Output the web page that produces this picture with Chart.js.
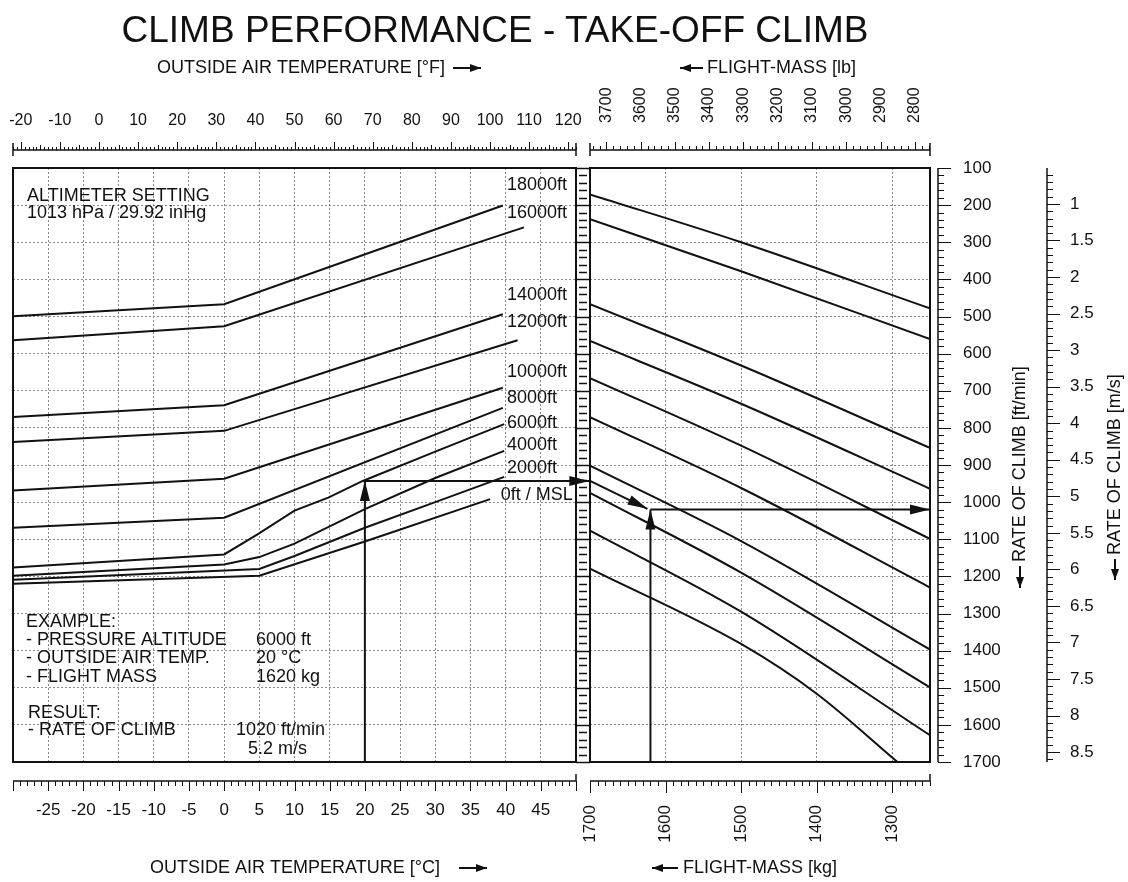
<!DOCTYPE html>
<html>
<head>
<meta charset="utf-8">
<title>Climb performance - take-off climb</title>
<script src="https://cdn.jsdelivr.net/npm/chart.js@4.4.1/dist/chart.umd.min.js"></script>
<style>
  html, body { margin: 0; padding: 0; background: #fff; }
  #wrap { position: relative; width: 1128px; height: 882px; overflow: hidden; }
  #wrap canvas { position: absolute; left: 0; top: 0; }
  #title { position: absolute; left: 0; top: 11px; width: 990px; text-align: center;
           font: 37px "Liberation Sans", Arial, sans-serif; line-height: 37px; color: #111; }
</style>
</head>
<body>
<div id="wrap">
  <canvas id="tempChart" width="1128" height="882"></canvas>
  <canvas id="massChart" width="1128" height="882"></canvas>
  <div id="title">CLIMB PERFORMANCE - TAKE-OFF CLIMB</div>
</div>
<script>
// ---- values ----
var tempRangeC = [-30, 50];
var massRangeKg = [1250, 1700];
var rocRange = [100, 1700];

var tempTicksC = [-25, -20, -15, -10, -5, 0, 5, 10, 15, 20, 25, 30, 35, 40, 45];
var tempTicksF = [-20, -10, 0, 10, 20, 30, 40, 50, 60, 70, 80, 90, 100, 110, 120];
var massTicksKg = [1700, 1600, 1500, 1400, 1300];
var massTicksLb = [3700, 3600, 3500, 3400, 3300, 3200, 3100, 3000, 2900, 2800];
var rocTicksFpm = [100, 200, 300, 400, 500, 600, 700, 800, 900, 1000, 1100, 1200, 1300, 1400, 1500, 1600, 1700];
var rocTicksMs = [1, 1.5, 2, 2.5, 3, 3.5, 4, 4.5, 5, 5.5, 6, 6.5, 7, 7.5, 8, 8.5];

var altitudeNames = ['18000ft', '16000ft', '14000ft', '12000ft', '10000ft', '8000ft', '6000ft', '4000ft', '2000ft', '0ft / MSL'];

// rate of climb [ft/min] against OAT [°C], one list per pressure altitude
var roc18000 = [[-30, 499], [0, 467], [39.6, 201]];
var roc16000 = [[-30, 564], [0, 526], [42.6, 260]];
var roc14000 = [[-30, 771], [0, 739], [39.6, 494]];
var roc12000 = [[-30, 838], [0, 808], [41.7, 564]];
var roc10000 = [[-30, 969], [0, 937], [39.6, 692]];
var roc8000 = [[-30, 1069], [0, 1042], [39.6, 746]];
var roc6000 = [[-30, 1176], [0, 1141], [4.8, 1086], [10, 1023], [14.8, 988], [19.7, 943], [30, 864], [39.8, 790]];
var roc4000 = [[-30, 1198], [0, 1168], [5, 1148], [10, 1112], [20, 1019], [30, 935], [39.8, 862]];
var roc2000 = [[-30, 1209], [5, 1180], [10, 1145], [20, 1069], [30, 1000], [39.8, 932]];
var roc0 = [[-30, 1220], [5, 1198], [20, 1106], [37.8, 992]];
var altitudeCurves = [roc18000, roc16000, roc14000, roc12000, roc10000, roc8000, roc6000, roc4000, roc2000, roc0];

// flight-mass guide lines [kg, ft/min]
var massGuide1 = [[1700, 171], [1500, 300], [1250, 478]];
var massGuide2 = [[1700, 238], [1500, 378], [1250, 561]];
var massGuide3 = [[1700, 467], [1500, 632], [1250, 854]];
var massGuide4 = [[1700, 566], [1500, 735], [1250, 964]];
var massGuide5 = [[1700, 666], [1500, 848], [1250, 1099]];
var massGuide6 = [[1700, 771], [1500, 962], [1250, 1230]];
var massGuide7 = [[1700, 902], [1500, 1105], [1250, 1397]];
var massGuide8 = [[1700, 975], [1500, 1190], [1250, 1499]];
var massGuide9 = [[1700, 1077], [1500, 1295], [1250, 1628]];
var massGuide10 = [[1700, 1179], [1500, 1382], [1400, 1516], [1293, 1700]];
var massGuides = [massGuide1, massGuide2, massGuide3, massGuide4, massGuide5, massGuide6, massGuide7, massGuide8, massGuide9, massGuide10];

// worked example: 6000 ft, 20 °C, 1620 kg -> 1020 ft/min
var exampleUpC = [[20, 1700], [20, 943]];
var exampleAcrossC = [[20, 943], [51.9, 943]];
var exampleSlideKg = [[1700, 943], [1624, 1018]];
var exampleUpKg = [[1620, 1700], [1620, 1020]];
var exampleAcrossKg = [[1620, 1020], [1250, 1020]];

// unit conversions for the secondary scales
var KG_TO_LB = 2.20462;
var FPM_PER_MS = 196.85;
function cToF(c) { return c * 9 / 5 + 32; }

// where the altitude names sit (°C, ft/min)
var altLabelAt = [[40.2, 146], [40.2, 221], [40.2, 442], [40.2, 515], [40.2, 649], [40.2, 720], [40.2, 787], [40.2, 846], [40.2, 908], [39.3, 981]];

// ---- drawing helpers ----
var ink = '#111';
var fontFamily = '"Liberation Sans", Arial, Helvetica, sans-serif';
Chart.defaults.font.family = fontFamily;
Chart.defaults.color = ink;

function px(scale, v) { return scale.getPixelForValue(v); }

function seg(ctx, x1, y1, x2, y2, w) {
  ctx.beginPath();
  ctx.lineWidth = w || 1;
  ctx.moveTo(x1, y1);
  ctx.lineTo(x2, y2);
  ctx.stroke();
}

function head(ctx, x1, y1, x2, y2, len, half) {
  var dx = x2 - x1, dy = y2 - y1, d = Math.sqrt(dx * dx + dy * dy) || 1;
  var ux = dx / d, uy = dy / d, bx = x2 - ux * len, by = y2 - uy * len;
  ctx.beginPath();
  ctx.moveTo(x2, y2);
  ctx.lineTo(bx - uy * half, by + ux * half);
  ctx.lineTo(bx + uy * half, by - ux * half);
  ctx.closePath();
  ctx.fill();
}

function arrowIcon(ctx, x1, y1, x2, y2) {
  seg(ctx, x1, y1, x2, y2, 2);
  head(ctx, x1, y1, x2, y2, 11, 4);
}

function hRuler(ctx, scale, lo, hi, step, lenOf, y, dir) {
  seg(ctx, px(scale, lo), y, px(scale, hi), y, 1.5);
  for (var i = Math.ceil(lo / step - 1e-6); i * step <= hi + 1e-6; i++) {
    var x = Math.round(px(scale, i * step)) + 0.5;
    seg(ctx, x, y, x, y + dir * lenOf(i), 1);
  }
}

function vRuler(ctx, scale, lo, hi, step, lenOf, x, dir) {
  seg(ctx, x, px(scale, lo), x, px(scale, hi), 1.5);
  for (var i = Math.ceil(lo / step - 1e-6); i * step <= hi + 1e-6; i++) {
    var y = Math.round(px(scale, i * step)) + 0.5;
    seg(ctx, x, y, x + dir * lenOf(i), y, 1);
  }
}

function label(ctx, s, x, y, align, size) {
  ctx.font = (size || 18) + 'px ' + fontFamily;
  ctx.textAlign = align || 'left';
  ctx.textBaseline = 'middle';
  ctx.fillText(s, x, y);
}

function vLabel(ctx, s, x, y, size) {
  ctx.save();
  ctx.translate(x, y);
  ctx.rotate(-Math.PI / 2);
  label(ctx, s, 0, 0, 'left', size);
  ctx.restore();
}

function fixedTicks(list) {
  return function (scale) { scale.ticks = list.map(function (v) { return { value: v }; }); };
}
// pin an axis to a fixed thickness and stop its labels from pushing the plot area
function fixSize(prop, size) {
  return function (scale) {
    scale[prop] = size;
    scale.paddingLeft = 0;
    scale.paddingRight = 0;
    scale.paddingTop = 0;
    scale.paddingBottom = 0;
  };
}
function plain(v) { return String(v); }

function toPoints(list) {
  return list.map(function (p) { return { x: p[0], y: p[1] }; });
}

function curve(list, smooth) {
  return {
    data: toPoints(list), borderColor: ink, borderWidth: 2, pointRadius: 0,
    tension: 0, cubicInterpolationMode: smooth ? 'monotone' : 'default',
    xAxisID: 'x', yAxisID: 'y'
  };
}
function arrowLine(list) {
  return {
    data: toPoints(list), borderColor: ink, borderWidth: 2, pointRadius: 0,
    tension: 0, clip: false, arrow: true, xAxisID: 'x', yAxisID: 'y'
  };
}

var dotted = { display: false, dash: [2, 2] };
var gridStyle = { color: '#8a8a8a', lineWidth: 1, drawTicks: false };

var arrowHeads = {
  id: 'arrowHeads',
  afterDatasetsDraw: function (chart) {
    var ctx = chart.ctx;
    ctx.save();
    ctx.fillStyle = ink;
    chart.data.datasets.forEach(function (ds, i) {
      if (!ds.arrow) return;
      var pts = chart.getDatasetMeta(i).data;
      var a = pts[pts.length - 2], b = pts[pts.length - 1];
      head(ctx, a.x, a.y, b.x, b.y, 20, 5);
    });
    ctx.restore();
  }
};

var tempDecor = {
  id: 'tempDecor',
  afterDraw: function (chart) {
    var ctx = chart.ctx, a = chart.chartArea;
    var sx = chart.scales.x, sf = chart.scales.xF, sy = chart.scales.y;
    ctx.save();
    ctx.strokeStyle = ink;
    ctx.fillStyle = ink;
    ctx.lineWidth = 2;
    ctx.strokeRect(a.left, a.top, a.right - a.left, a.bottom - a.top);

    hRuler(ctx, sf, sf.min, sf.max, 1, function (i) { return i % 10 === 0 ? 8 : (i % 5 === 0 ? 5 : 3); }, 150, -1);
    seg(ctx, a.left, 143, a.left, 156, 1.5);
    seg(ctx, a.right, 143, a.right, 156, 1.5);
    hRuler(ctx, sx, sx.min, sx.max, 1, function (i) { return i % 5 === 0 ? 10 : 5; }, 781, 1);
    seg(ctx, a.right, 774, a.right, 781, 1.5);

    label(ctx, 'OUTSIDE AIR TEMPERATURE [°F]', 157, 68);
    arrowIcon(ctx, 453, 68, 481, 68);
    label(ctx, 'OUTSIDE AIR TEMPERATURE [°C]', 150, 868);
    arrowIcon(ctx, 459, 868, 487, 868);

    var l = a.left, t = a.top;
    label(ctx, 'ALTIMETER SETTING', l + 14, t + 28);
    label(ctx, '1013 hPa / 29.92 inHg', l + 14, t + 45);
    label(ctx, 'EXAMPLE:', l + 13, 622);
    label(ctx, '- PRESSURE ALTITUDE', l + 13, 640);
    label(ctx, '6000 ft', 256, 640);
    label(ctx, '- OUTSIDE AIR TEMP.', l + 13, 658);
    label(ctx, '20 °C', 256, 658);
    label(ctx, '- FLIGHT MASS', l + 13, 677);
    label(ctx, '1620 kg', 256, 677);
    label(ctx, 'RESULT:', l + 15, 713);
    label(ctx, '- RATE OF CLIMB', l + 15, 730);
    label(ctx, '1020 ft/min', 236, 730);
    label(ctx, '5.2 m/s', 248, 749);

    altitudeNames.forEach(function (n, k) {
      label(ctx, n, px(sx, altLabelAt[k][0]), px(sy, altLabelAt[k][1]));
    });
    ctx.restore();
  }
};

var massDecor = {
  id: 'massDecor',
  afterDraw: function (chart) {
    var ctx = chart.ctx, a = chart.chartArea;
    var sx = chart.scales.x, sl = chart.scales.xLb, sy = chart.scales.y, sm = chart.scales.yMs;
    ctx.save();
    ctx.strokeStyle = ink;
    ctx.fillStyle = ink;
    ctx.lineWidth = 2;
    ctx.strokeRect(a.left, a.top, a.right - a.left, a.bottom - a.top);

    // ruler strip between the two panels
    for (var v = rocRange[0]; v <= rocRange[1]; v += 20) {
      var y = Math.round(px(sy, v)) + 0.5;
      if (v % 100 === 0) seg(ctx, a.left - 14, y, a.left, y, 1.5);
      else seg(ctx, a.left - 11, y, a.left - 3, y, 1.5);
    }

    hRuler(ctx, sl, sl.min, sl.max, 20, function (i) { return i % 5 === 0 ? 8 : 4; }, 150, -1);
    seg(ctx, a.left, 143, a.left, 156, 1.5);
    seg(ctx, a.right, 143, a.right, 156, 1.5);
    hRuler(ctx, sx, sx.min, sx.max, 10, function (i) { return i % 10 === 0 ? 12 : 5; }, 781, 1);
    seg(ctx, a.right, 774, a.right, 781, 1.5);

    vRuler(ctx, sy, rocRange[0], rocRange[1], 20, function (i) { return i % 5 === 0 ? 13 : 6; }, a.right + 8, 1);
    vRuler(ctx, sm, rocRange[0] / FPM_PER_MS, rocRange[1] / FPM_PER_MS, 0.1, function (i) { return i % 5 === 0 ? 13 : 6; }, 1047, 1);

    arrowIcon(ctx, 703, 68, 680, 68);
    label(ctx, 'FLIGHT-MASS [lb]', 707, 68);
    arrowIcon(ctx, 678, 868, 652, 868);
    label(ctx, 'FLIGHT-MASS [kg]', 683, 868);

    vLabel(ctx, 'RATE OF CLIMB [ft/min]', 1020, 562);
    arrowIcon(ctx, 1020, 566, 1020, 588);
    vLabel(ctx, 'RATE OF CLIMB [m/s]', 1115, 555);
    arrowIcon(ctx, 1115, 559, 1115, 580);
    ctx.restore();
  }
};

// ---- left panel: OAT ----
var tempSets = altitudeCurves.map(function (c) { return curve(c, false); });
tempSets.push(arrowLine(exampleUpC), arrowLine(exampleAcrossC));

new Chart(document.getElementById('tempChart'), {
  type: 'line',
  data: { datasets: tempSets },
  options: {
    responsive: false,
    animation: false,
    events: [],
    layout: { padding: { left: 13, right: 552, top: 0, bottom: 0 } },
    plugins: { legend: { display: false }, tooltip: { enabled: false } },
    scales: {
      x: {
        type: 'linear', position: 'bottom', min: tempRangeC[0], max: tempRangeC[1],
        afterBuildTicks: fixedTicks(tempTicksC), afterFit: fixSize('height', 120),
        grid: gridStyle, border: dotted,
        ticks: { font: { size: 17 }, padding: 38, autoSkip: false, maxRotation: 0, callback: plain }
      },
      xF: {
        type: 'linear', position: 'top', min: cToF(tempRangeC[0]), max: cToF(tempRangeC[1]),
        afterBuildTicks: fixedTicks(tempTicksF), afterFit: fixSize('height', 168),
        grid: { display: false, drawTicks: false }, border: { display: false },
        ticks: { font: { size: 16 }, padding: 38, autoSkip: false, maxRotation: 0, callback: plain }
      },
      y: {
        type: 'linear', position: 'left', min: rocRange[0], max: rocRange[1], reverse: true,
        afterBuildTicks: fixedTicks(rocTicksFpm), afterFit: fixSize('width', 0),
        grid: gridStyle, border: dotted, ticks: { display: false }
      }
    }
  },
  plugins: [tempDecor, arrowHeads]
});

// ---- right panel: flight mass ----
var massSets = massGuides.map(function (c) { return curve(c, true); });
massSets.push(arrowLine(exampleSlideKg), arrowLine(exampleUpKg), arrowLine(exampleAcrossKg));

new Chart(document.getElementById('massChart'), {
  type: 'line',
  data: { datasets: massSets },
  options: {
    responsive: false,
    animation: false,
    events: [],
    layout: { padding: { left: 590, right: 0, top: 0, bottom: 0 } },
    plugins: { legend: { display: false }, tooltip: { enabled: false } },
    scales: {
      x: {
        type: 'linear', position: 'bottom', min: massRangeKg[0], max: massRangeKg[1], reverse: true,
        afterBuildTicks: fixedTicks(massTicksKg), afterFit: fixSize('height', 120),
        grid: gridStyle, border: dotted,
        ticks: { font: { size: 17 }, padding: 43, autoSkip: false, minRotation: 90, maxRotation: 90, callback: plain }
      },
      xLb: {
        type: 'linear', position: 'top', min: massRangeKg[0] * KG_TO_LB, max: massRangeKg[1] * KG_TO_LB, reverse: true,
        afterBuildTicks: fixedTicks(massTicksLb), afterFit: fixSize('height', 168),
        grid: { display: false, drawTicks: false }, border: { display: false },
        ticks: { font: { size: 16 }, padding: 45, labelOffset: 19, autoSkip: false, minRotation: 90, maxRotation: 90, callback: plain }
      },
      y: {
        type: 'linear', position: 'right', min: rocRange[0], max: rocRange[1], reverse: true,
        afterBuildTicks: fixedTicks(rocTicksFpm), afterFit: fixSize('width', 117),
        grid: gridStyle, border: dotted,
        ticks: { font: { size: 17 }, padding: 33, autoSkip: false, callback: plain }
      },
      yMs: {
        type: 'linear', position: 'right', min: rocRange[0] / FPM_PER_MS, max: rocRange[1] / FPM_PER_MS, reverse: true,
        afterBuildTicks: fixedTicks(rocTicksMs), afterFit: fixSize('width', 81),
        grid: { display: false, drawTicks: false }, border: { display: false },
        ticks: { font: { size: 17 }, padding: 23, autoSkip: false, callback: plain }
      }
    }
  },
  plugins: [massDecor, arrowHeads]
});
</script>
</body>
</html>
